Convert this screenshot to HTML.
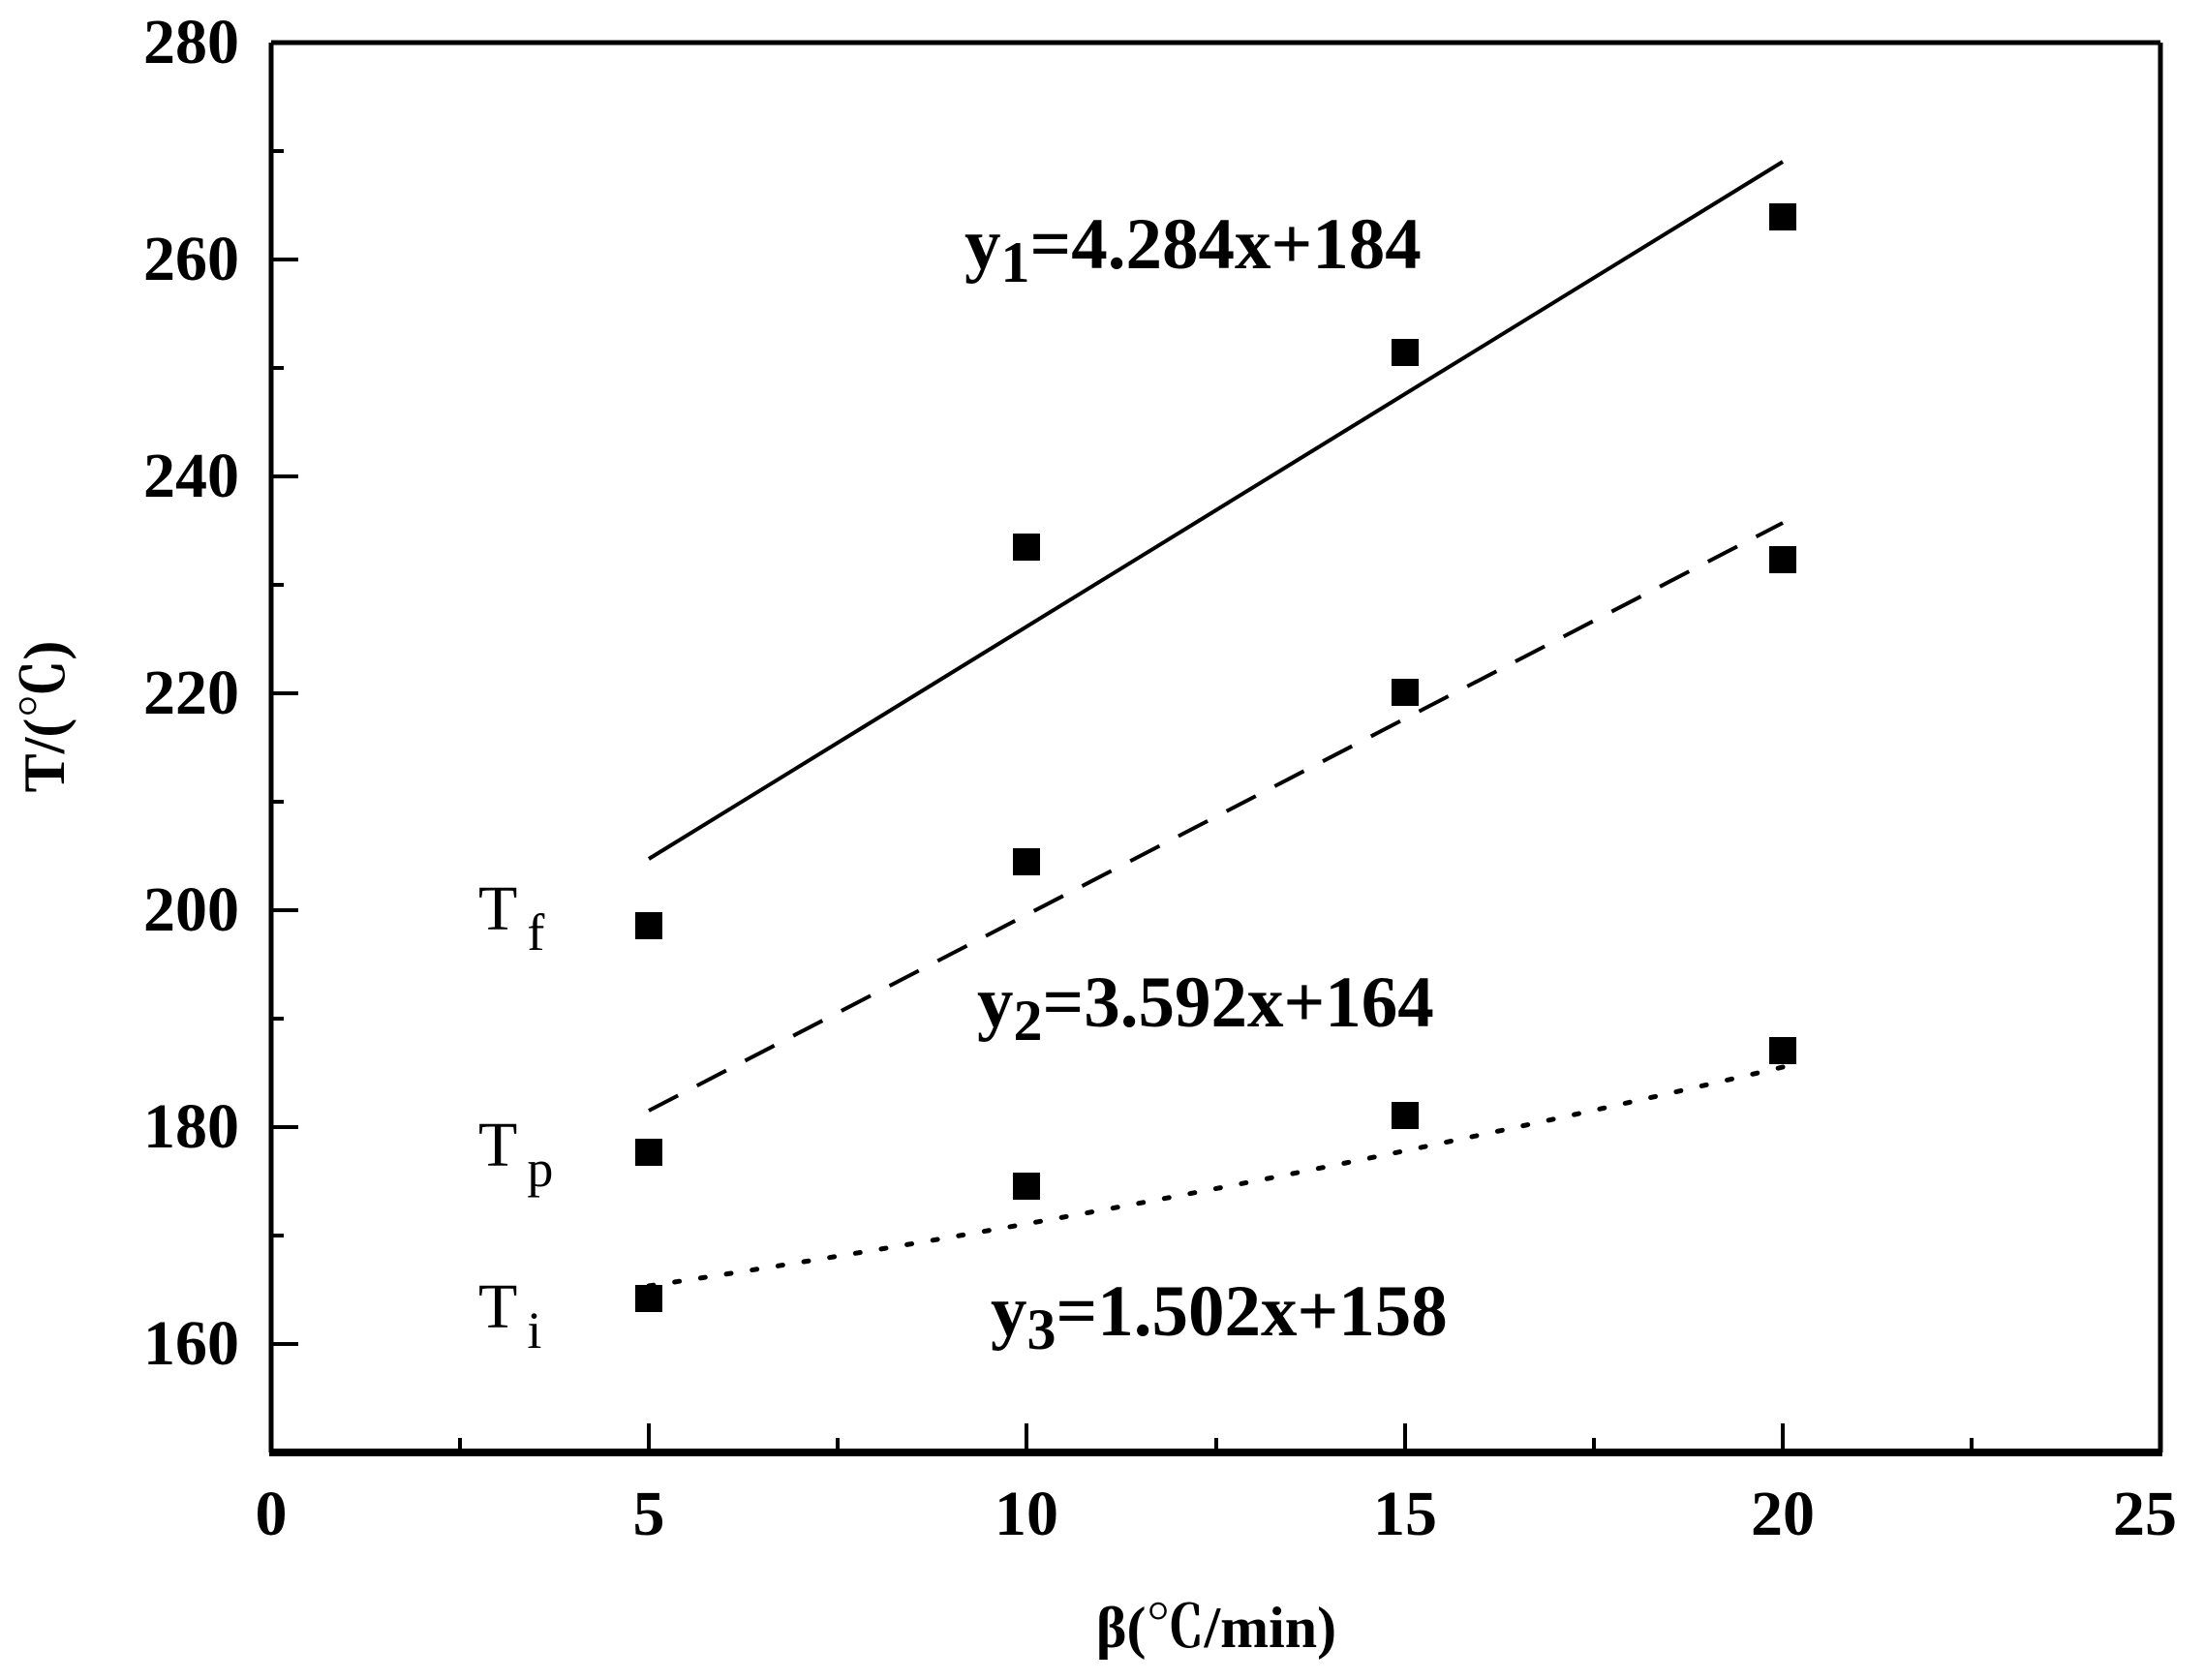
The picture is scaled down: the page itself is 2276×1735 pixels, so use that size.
<!DOCTYPE html>
<html><head><meta charset="utf-8"><style>
html,body{margin:0;padding:0;background:#fff;}
svg{display:block;}
text{font-family:"Liberation Serif","Noto Serif CJK SC",serif;fill:#000;}
</style></head><body>
<svg width="2276" height="1735" viewBox="0 0 2276 1735" xmlns="http://www.w3.org/2000/svg">
<rect width="2276" height="1735" fill="#fff"/>
<line x1="280" y1="44" x2="2231" y2="44" stroke="#000" stroke-width="5"/>
<line x1="2231" y1="44" x2="2231" y2="1500" stroke="#000" stroke-width="5"/>
<line x1="280" y1="44" x2="280" y2="1500" stroke="#000" stroke-width="5"/>
<line x1="278" y1="1500" x2="2233" y2="1500" stroke="#000" stroke-width="8"/>
<g stroke="#000" stroke-width="4">
<line x1="280" y1="268" x2="308" y2="268"/>
<line x1="280" y1="492" x2="308" y2="492"/>
<line x1="280" y1="716" x2="308" y2="716"/>
<line x1="280" y1="940" x2="308" y2="940"/>
<line x1="280" y1="1164" x2="308" y2="1164"/>
<line x1="280" y1="1388" x2="308" y2="1388"/>
<line x1="280" y1="156" x2="293" y2="156"/>
<line x1="280" y1="380" x2="293" y2="380"/>
<line x1="280" y1="604" x2="293" y2="604"/>
<line x1="280" y1="828" x2="293" y2="828"/>
<line x1="280" y1="1052" x2="293" y2="1052"/>
<line x1="280" y1="1276" x2="293" y2="1276"/>
<line x1="670" y1="1500" x2="670" y2="1470"/>
<line x1="1060" y1="1500" x2="1060" y2="1470"/>
<line x1="1451" y1="1500" x2="1451" y2="1470"/>
<line x1="1841" y1="1500" x2="1841" y2="1470"/>
<line x1="475" y1="1500" x2="475" y2="1485"/>
<line x1="865" y1="1500" x2="865" y2="1485"/>
<line x1="1256" y1="1500" x2="1256" y2="1485"/>
<line x1="1646" y1="1500" x2="1646" y2="1485"/>
<line x1="2036" y1="1500" x2="2036" y2="1485"/>
</g>
<g font-size="66" font-weight="bold" text-anchor="end">
<text x="247" y="65">280</text>
<text x="247" y="289">260</text>
<text x="247" y="513">240</text>
<text x="247" y="737">220</text>
<text x="247" y="961">200</text>
<text x="247" y="1185">180</text>
<text x="247" y="1409">160</text>
</g>
<g font-size="66" font-weight="bold" text-anchor="middle">
<text x="280" y="1585">0</text>
<text x="670" y="1585">5</text>
<text x="1060" y="1585">10</text>
<text x="1451" y="1585">15</text>
<text x="1841" y="1585">20</text>
<text x="2215" y="1585">25</text>
</g>
<text x="1256" y="1701" font-size="60" font-weight="bold" text-anchor="middle">β(℃/min)</text>
<text transform="translate(66,740) rotate(-90)" font-size="60" font-weight="bold" text-anchor="middle">T/(℃)</text>
<line x1="670" y1="887" x2="1841" y2="167" stroke="#000" stroke-width="4"/>
<line x1="670" y1="1147" x2="1841" y2="540" stroke="#000" stroke-width="4" stroke-dasharray="34,22"/>
<path d="M670,1328 Q1256,1240 1841,1102" fill="none" stroke="#000" stroke-width="5" stroke-dasharray="5,22" stroke-linecap="round"/>
<g fill="#000">
<rect x="656" y="942" width="28" height="28"/>
<rect x="1046" y="551" width="28" height="28"/>
<rect x="1437" y="350" width="28" height="28"/>
<rect x="1827" y="210" width="28" height="28"/>
<rect x="656" y="1176" width="28" height="28"/>
<rect x="1046" y="876" width="28" height="28"/>
<rect x="1437" y="701" width="28" height="28"/>
<rect x="1827" y="564" width="28" height="28"/>
<rect x="656" y="1327" width="28" height="28"/>
<rect x="1046" y="1211" width="28" height="28"/>
<rect x="1437" y="1138" width="28" height="28"/>
<rect x="1827" y="1071" width="28" height="28"/>
</g>
<g font-size="75" font-weight="bold">
<text x="996" y="277">y<tspan font-size="60" dy="14">1</tspan><tspan dy="-14">=4.284x+184</tspan></text>
<text x="1009" y="1060">y<tspan font-size="60" dy="14">2</tspan><tspan dy="-14">=3.592x+164</tspan></text>
<text x="1023" y="1379">y<tspan font-size="60" dy="14">3</tspan><tspan dy="-14">=1.502x+158</tspan></text>
</g>
<g font-size="66">
<text x="494" y="960">T<tspan font-size="54" dx="10" dy="21">f</tspan></text>
<text x="494" y="1204">T<tspan font-size="54" dx="10" dy="21">p</tspan></text>
<text x="494" y="1371">T<tspan font-size="54" dx="10" dy="21">i</tspan></text>
</g>
</svg>
</body></html>
